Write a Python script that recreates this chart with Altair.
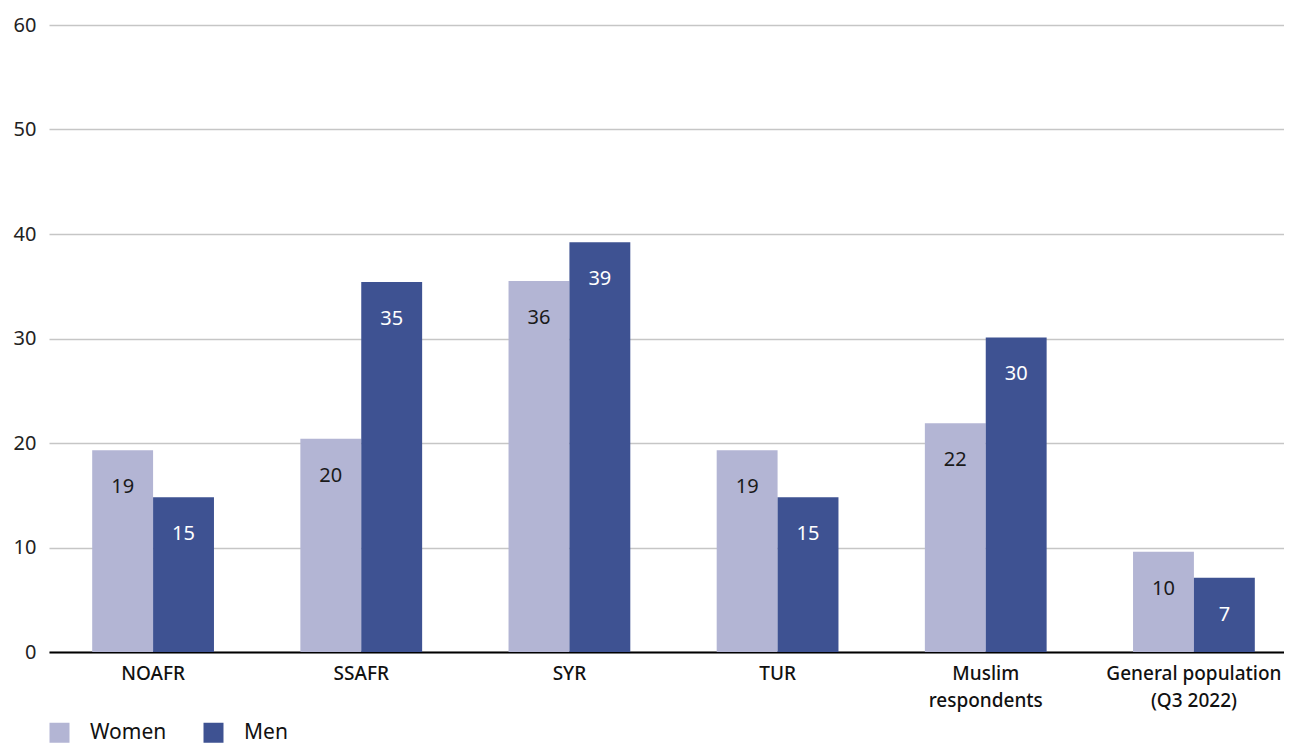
import altair as alt
import pandas as pd

categories = ["NOAFR", "SSAFR", "SYR", "TUR", "Muslim respondents", "General population (Q3 2022)"]
women = [19.3, 20.4, 35.5, 19.3, 21.9, 9.6]
men = [14.8, 35.4, 39.2, 14.8, 30.1, 7.1]
women_labels = ["19", "20", "36", "19", "22", "10"]
men_labels = ["15", "35", "39", "15", "30", "7"]
groups = ["Women", "Men"]
colors = ["#b3b5d4", "#3e5292"]
text_colors = ["#1a1a1a", "#ffffff"]

rows = []
for i, c in enumerate(categories):
    rows.append({"cat": c, "sex": "Women", "value": women[i], "label": women_labels[i]})
    rows.append({"cat": c, "sex": "Men", "value": men[i], "label": men_labels[i]})
df = pd.DataFrame(rows)

FONT = "Noto Sans"

label_expr = ("datum.value == 'Muslim respondents' ? ['Muslim', 'respondents'] : "
              "datum.value == 'General population (Q3 2022)' ? ['General population', '(Q3 2022)'] : datum.value")

x = alt.X("cat:N", sort=categories, title=None,
          scale=alt.Scale(paddingInner=0.415, paddingOuter=0.2075, range=[0, 1249]),
          axis=alt.Axis(labelAngle=0, labelFontSize=19, labelFont=FONT, labelFontWeight=500,
                        labelColor="#111111", labelPadding=12, labelLineHeight=27,
                        ticks=False, domainColor="#000000", domainWidth=2, labelLimit=0,
                        labelExpr=label_expr, labelBaseline="top"))
y = alt.Y("value:Q", title=None,
          scale=alt.Scale(domain=[0, 60], nice=False),
          axis=alt.Axis(values=[0, 10, 20, 30, 40, 50, 60], labelFontSize=20, labelFont=FONT,
                        labelColor="#222222", labelPadding=13, ticks=False, domain=False,
                        gridColor="#c6c6c6", gridWidth=1.5))
xoff = alt.XOffset("sex:N", sort=groups)

bars = alt.Chart(df).mark_bar().encode(
    x=x, y=y, xOffset=xoff,
    color=alt.Color("sex:N", sort=groups, scale=alt.Scale(domain=groups, range=colors),
                    legend=alt.Legend(title=None, orient="none", legendX=0, legendY=697,
                                      direction="horizontal", symbolType="square",
                                      symbolSize=400, symbolStrokeWidth=0, labelFontSize=21,
                                      labelFont=FONT, labelColor="#111111", labelOffset=20,
                                      columnPadding=36)),
)

texts = alt.Chart(df).mark_text(fontSize=20, font=FONT, baseline="middle", dy=37).encode(
    x=x, y=y, xOffset=xoff,
    text="label:N",
    color=alt.Color("sex:N", sort=groups, scale=alt.Scale(domain=groups, range=text_colors), legend=None),
)

chart = alt.layer(bars, texts).resolve_scale(color="independent").properties(
    width=1235, height=627,
    padding={"left": 41, "top": 17, "right": 0, "bottom": 96},
    autosize="none",
).configure_view(stroke=None)

chart.save("out.html", embed_options={"renderer": "svg", "actions": False})
